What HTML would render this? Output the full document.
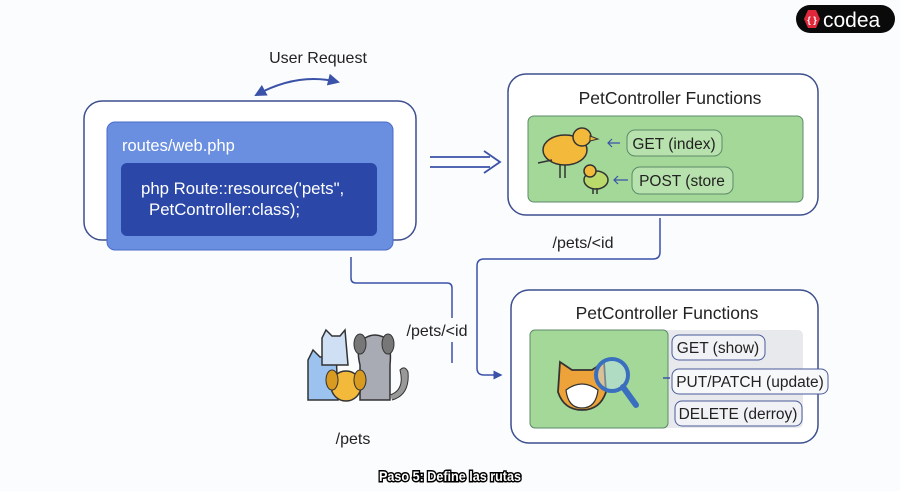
<!DOCTYPE html>
<html><head><meta charset="utf-8"><style>
html,body{margin:0;padding:0;background:#fbfcfd;}
svg{display:block;font-family:"Liberation Sans",sans-serif;}
</style></head><body>
<svg width="900" height="491" viewBox="0 0 900 491" xmlns="http://www.w3.org/2000/svg">
<rect width="900" height="491" fill="#fbfcfd"/>
<defs>
<marker id="ah" markerWidth="6" markerHeight="6" refX="5" refY="3" orient="auto-start-reverse"><path d="M0,0 L6,3 L0,6 Z" fill="#3a52a8"/></marker>
</defs>
<!-- logo -->
<rect x="796" y="5" width="99" height="28" rx="14" fill="#0a0a0a"/>
<polygon points="808,10 816,10 820,19 816,28 808,28 804,19" fill="#e0283a"/>
<text x="812" y="23" font-size="9" fill="#fff" text-anchor="middle" font-weight="bold">{ }</text>
<text x="823" y="27" font-size="21" fill="#fff">codea</text>
<!-- user request -->
<text x="318" y="63" font-size="16" fill="#222" text-anchor="middle">User Request</text>
<path d="M256,95 Q298,72 338,82" fill="none" stroke="#3a52a8" stroke-width="2" marker-end="url(#ah)" marker-start="url(#ah)"/>
<!-- left box -->
<rect x="84" y="101" width="332" height="139" rx="18" fill="#fff" stroke="#3d4f8f" stroke-width="1.5"/>
<rect x="107" y="122" width="286" height="128" rx="8" fill="#6b8fe0" stroke="#4a6bc9"/>
<rect x="121" y="163" width="256" height="73" rx="6" fill="#2b48a8"/>
<text x="122" y="151" font-size="16.5" fill="#fff">routes/web.php</text>
<text x="141" y="194" font-size="16.8" fill="#fff">php Route::resource('pets",</text>
<text x="149" y="215" font-size="16.8" fill="#fff">PetController:class);</text>
<!-- double arrow -->
<path d="M430,157 H490 M430,167 H490 M484,151 L500,162 L484,173" fill="none" stroke="#3a52a8" stroke-width="1.8"/>
<!-- top right -->
<rect x="508" y="74" width="310" height="141" rx="18" fill="#fff" stroke="#3d4f8f" stroke-width="1.5"/>
<text x="670" y="104" font-size="17.5" fill="#222" text-anchor="middle">PetController Functions</text>
<rect x="528" y="116" width="275" height="86" rx="6" fill="#a3d898" stroke="#5c8a68"/>
<!-- birds -->
<ellipse cx="565" cy="150" rx="22" ry="15" fill="#f2b93a" stroke="#333" stroke-width="1.5"/>
<circle cx="582" cy="137" r="9" fill="#f2b93a" stroke="#333" stroke-width="1.5"/>
<path d="M590,136 L598,139 L590,141Z" fill="#f2b93a" stroke="#333"/>
<path d="M538,163 L552,160" stroke="#333" stroke-width="1.5"/>
<path d="M560,165 V178 M565,165 V178" stroke="#333" stroke-width="1.5"/>
<ellipse cx="596" cy="180" rx="12" ry="9" fill="#b9d96a" stroke="#333" stroke-width="1.5"/>
<circle cx="590" cy="171" r="6" fill="#f2b93a" stroke="#333" stroke-width="1.5"/>
<path d="M593,188 V194 M597,188 V194" stroke="#333" stroke-width="1.5"/>
<path d="M620,143 H608 M612,139 L608,143 L612,147" fill="none" stroke="#3a52a8" stroke-width="1.2"/>
<path d="M628,180 H614 M618,176 L614,180 L618,184" fill="none" stroke="#3a52a8" stroke-width="1.2"/>
<rect x="627" y="130" width="95" height="26" rx="8" fill="#b8e2ad" stroke="#5c8a68"/>
<text x="674" y="149" font-size="15.5" fill="#222" text-anchor="middle">GET (index)</text>
<rect x="632" y="167" width="101" height="27" rx="8" fill="#b8e2ad" stroke="#5c8a68"/>
<text x="682" y="186" font-size="15.5" fill="#222" text-anchor="middle">POST (store</text>
<!-- connectors -->
<path d="M660,218 V252 Q660,259 653,259 H484 Q477,259 477,266 V368 Q477,375 484,375 H501" fill="none" stroke="#3a52a8" stroke-width="1.5" marker-end="url(#ah)"/>
<text x="583" y="248" font-size="16" fill="#222" text-anchor="middle">/pets/&lt;id</text>
<path d="M351,257 V278 Q351,283 356,283 H447 Q452,283 452,288 V318 M452,342 V363" fill="none" stroke="#3a52a8" stroke-width="1.5"/>
<text x="437" y="336" font-size="16" fill="#222" text-anchor="middle">/pets/&lt;id</text>
<!-- pets -->
<path d="M308,400 V360 L313,350 L320,357 L330,357 L336,350 L338,400 Z" fill="#9cc3f0" stroke="#333" stroke-width="1.5"/>
<path d="M322,365 V338 L326,330 L332,336 L340,336 L345,330 L348,365 Z" fill="#cfe0f5" stroke="#333" stroke-width="1.5"/>
<path d="M360,400 V365 Q355,345 365,338 Q375,332 385,338 Q392,345 390,365 V400 Z" fill="#a9abb4" stroke="#333" stroke-width="1.5"/>
<ellipse cx="360" cy="344" rx="6" ry="10" fill="#777" stroke="#333"/>
<ellipse cx="388" cy="344" rx="6" ry="10" fill="#777" stroke="#333"/>
<path d="M390,395 Q405,390 400,370 Q405,365 408,372 Q410,395 392,400" fill="#999" stroke="#333"/>
<circle cx="346" cy="386" r="15" fill="#f2b93a" stroke="#333" stroke-width="1.5"/>
<ellipse cx="332" cy="380" rx="6" ry="10" fill="#d99a20" stroke="#333"/>
<ellipse cx="360" cy="380" rx="6" ry="10" fill="#d99a20" stroke="#333"/>
<text x="353" y="444" font-size="16" fill="#222" text-anchor="middle">/pets</text>
<!-- bottom right -->
<rect x="511" y="290" width="307" height="153" rx="18" fill="#fff" stroke="#3d4f8f" stroke-width="1.5"/>
<text x="667" y="319" font-size="17.5" fill="#222" text-anchor="middle">PetController Functions</text>
<rect x="660" y="330" width="143" height="98" rx="5" fill="#e8e9ec"/>
<rect x="530" y="330" width="138" height="98" rx="5" fill="#a3d898" stroke="#5c8a68"/>
<path d="M560,362 L572,370 L592,370 L604,362 L606,392 Q600,410 582,410 Q564,410 558,392 Z" fill="#eea33a" stroke="#333" stroke-width="1.8"/>
<path d="M566,390 Q582,378 598,390 Q596,408 582,408 Q568,408 566,390Z" fill="#fff" stroke="#333" stroke-width="1.2"/>
<circle cx="612" cy="375" r="16" fill="#bfe0ef" fill-opacity="0.5" stroke="#3a6fc0" stroke-width="4"/>
<path d="M623,387 L636,405" stroke="#3a6fc0" stroke-width="6" stroke-linecap="round"/>
<path d="M663,378 H670" stroke="#3a52a8" stroke-width="1.5"/>
<rect x="672" y="335" width="93" height="25" rx="7" fill="#f1f2f5" stroke="#4a5a9a"/>
<text x="718" y="353" font-size="15.5" fill="#222" text-anchor="middle">GET (show)</text>
<rect x="672" y="369" width="156" height="25" rx="7" fill="#f7f8fa" stroke="#4a5a9a"/>
<text x="750" y="387" font-size="15.5" fill="#222" text-anchor="middle">PUT/PATCH (update)</text>
<rect x="675" y="401" width="127" height="25" rx="7" fill="#f1f2f5" stroke="#4a5a9a"/>
<text x="738" y="419" font-size="15.5" fill="#222" text-anchor="middle">DELETE (derroy)</text>
<!-- caption -->
<text x="450" y="481" font-size="14" font-weight="bold" fill="#fff" stroke="#000" stroke-width="3" paint-order="stroke" text-anchor="middle" textLength="142" lengthAdjust="spacingAndGlyphs">Paso 5: Define las rutas</text>
</svg>
</body></html>
